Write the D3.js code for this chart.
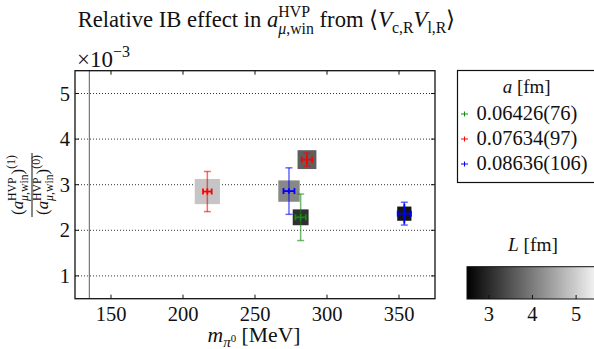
<!DOCTYPE html>
<html><head><meta charset="utf-8">
<script src="https://cdn.jsdelivr.net/npm/d3@7/dist/d3.min.js"></script>
<style>body{margin:0;background:#fff}svg{display:block}</style>
</head><body><svg id="c" width="594" height="349"></svg>
<script>
// ---- data ----
const mpi      = [216.9, 273.6, 286.1, 281.7, 353.7];     // m_pi0 [MeV]
const mpiErr   = [3.0, 3.8, 3.6, 3.6, 4.6];
const ratio    = [2.85, 2.86, 3.55, 2.285, 2.365];        // x 10^-3
const errTot   = [0.44, 0.51, 0.145, 0.51, 0.25];
const errStat  = [0.07, 0.06, 0.11, 0.07, 0.22];
const ensA     = [1, 2, 1, 0, 2];                         // index into spacings
const boxL     = [4.89, 4.15, 3.66, 3.08, 2.76];          // L [fm]
const spacings = ["0.06426(76)", "0.07634(97)", "0.08636(106)"];
const spacingColors = ["#138a13", "#ff0000", "#0000ff"];
const xTicks = [150, 200, 250, 300, 350];
const yTicks = [1, 2, 3, 4, 5];
const lTicks = [3, 4, 5];
const physMpi = 134.98;

const svg = d3.select("#c");
const FF = "'Liberation Serif', 'Times New Roman', serif";
const FS = 20.5;
const x = d3.scaleLinear().domain([125, 375]).range([75, 435]);
const y = d3.scaleLinear().domain([0.5, 5.5]).range([298.7, 70.7]);
const gray = d3.scaleLinear().domain([2.5, 5.6]).range(["#000", "#fff"]);
const boxSize = d3.scaleLinear().domain([0, 1]).range([0, 5.15]);
const cbx = d3.scaleLinear().domain([2.5, 5.6]).range([467, 602.3]);

function mtextRaw(parent, segs, base) {
  const g = parent.append("g");
  let cx = 0, lastStart = 0, maxEnd = 0;
  segs.forEach(s => {
    const size = (s.size || 1) * base;
    const start = s.stack ? lastStart : cx;
    const t = g.append("text").attr("x", start).attr("y", -(s.shift || 0) * base)
      .attr("font-size", size).style("font-family", FF).attr("fill", "#111")
      .attr("xml:space", "preserve");
    const parts = Array.isArray(s.t) ? s.t : [[s.t, s.it]];
    parts.forEach(p => t.append("tspan").style("font-style", p[1] ? "italic" : "normal").text(p[0]));
    const w = t.node().getComputedTextLength();
    if (s.stack) { cx = Math.max(cx, start + w); }
    else { lastStart = start; cx = start + w; }
    maxEnd = Math.max(maxEnd, cx);
  });
  return {g, w: maxEnd};
}
// fitW: font size is chosen so the whole expression spans fitW pixels
function mtext(parent, segs, x0, y0, anchor, base, fitW) {
  let r = mtextRaw(parent, segs, base);
  if (fitW) { const b = base * fitW / r.w; r.g.remove(); r = mtextRaw(parent, segs, b); }
  let off = 0;
  if (anchor === "middle") off = -r.w / 2;
  if (anchor === "end") off = -r.w;
  r.g.attr("transform", `translate(${x0 + off},${y0})`);
  return r.g;
}
function ptext(sel) { return sel.style("font-family", FF).attr("fill", "#111").attr("font-size", FS); }

// title
mtext(svg, [
  {t: "Relative IB effect in "}, {t: "a", it: 1},
  {t: "HVP", size: 0.7, shift: 0.45}, {t: [["μ", 1], [",win", 0]], size: 0.7, shift: -0.3, stack: 1},
  {t: " from ⟨"}, {t: "V", it: 1}, {t: "c,R", size: 0.7, shift: -0.25},
  {t: "V", it: 1}, {t: "l,R", size: 0.7, shift: -0.25}, {t: "⟩"}
], 266.5, 27, "middle", 21, 377);

// grid & reference line
const pg = svg.append("g");
pg.selectAll(".grid").data(yTicks).join("line")
  .attr("x1", 75).attr("x2", 435).attr("y1", d => y(d)).attr("y2", d => y(d))
  .attr("stroke", "#333").attr("stroke-width", 1).attr("stroke-dasharray", "1,2");
pg.append("line").attr("x1", x(physMpi)).attr("x2", x(physMpi))
  .attr("y1", 70.7).attr("y2", 298.7).attr("stroke", "#777").attr("stroke-width", 1.2);

// squares
pg.selectAll(".sq").data(mpi).join("rect")
  .attr("x", (d, i) => x(d) - boxSize(boxL[i]) / 2)
  .attr("y", (d, i) => y(ratio[i]) - boxSize(boxL[i]) / 2)
  .attr("width", (d, i) => boxSize(boxL[i]))
  .attr("height", (d, i) => boxSize(boxL[i]))
  .attr("fill", (d, i) => gray(boxL[i]));

// error bars
mpi.forEach((m, i) => {
  const c = spacingColors[ensA[i]];
  const cx = x(m), cy = y(ratio[i]);
  const g = pg.append("g").attr("stroke", c);
  const o = g.append("g").attr("stroke-opacity", 0.6).attr("stroke-width", 1.5);
  o.append("line").attr("x1", cx).attr("x2", cx).attr("y1", y(ratio[i] + errTot[i])).attr("y2", y(ratio[i] - errTot[i]));
  [errTot[i], -errTot[i]].forEach(e => o.append("line").attr("x1", cx - 3.5).attr("x2", cx + 3.5).attr("y1", y(ratio[i] + e)).attr("y2", y(ratio[i] + e)));
  const n = g.append("g").attr("stroke-width", 1.8);
  n.append("line").attr("x1", cx).attr("x2", cx).attr("y1", y(ratio[i] + errStat[i])).attr("y2", y(ratio[i] - errStat[i]));
  n.append("line").attr("x1", x(m - mpiErr[i])).attr("x2", x(m + mpiErr[i])).attr("y1", cy).attr("y2", cy);
  [mpiErr[i], -mpiErr[i]].forEach(e => n.append("line").attr("x1", x(m + e)).attr("x2", x(m + e)).attr("y1", cy - 3).attr("y2", cy + 3));
});

// axes (inward ticks both sides)
const ax = svg.append("g").attr("stroke", "#111").attr("stroke-width", 1);
xTicks.forEach(t => {
  ax.append("line").attr("x1", x(t)).attr("x2", x(t)).attr("y1", 298.7).attr("y2", 294.7);
  ax.append("line").attr("x1", x(t)).attr("x2", x(t)).attr("y1", 70.7).attr("y2", 74.7);
});
yTicks.forEach(t => {
  ax.append("line").attr("x1", 75).attr("x2", 79).attr("y1", y(t)).attr("y2", y(t));
  ax.append("line").attr("x1", 435).attr("x2", 431).attr("y1", y(t)).attr("y2", y(t));
});
svg.append("rect").attr("x", 75).attr("y", 70.7).attr("width", 360).attr("height", 228)
  .attr("fill", "none").attr("stroke", "#111").attr("stroke-width", 1.3);

ptext(svg.selectAll(".xt").data(xTicks).join("text")).attr("x", d => x(d)).attr("y", 321)
  .attr("text-anchor", "middle").text(d => d);
ptext(svg.selectAll(".yt").data(yTicks).join("text")).attr("x", 70).attr("y", d => y(d) + 7)
  .attr("text-anchor", "end").text(d => d);

mtext(svg, [{t: "×10"}, {t: "−3", size: 0.7, shift: 0.45}], 77, 67, "start", 21, 53);

// x label
mtext(svg, [{t: "m", it: 1}, {t: "π", size: 0.7, shift: -0.22, it: 1}, {t: "0", size: 0.5, shift: 0.02},
  {t: " [MeV]"}], 254, 342, "middle", 21, 93);

// y label (rotated fraction)
const yl = svg.append("g").attr("transform", "translate(32,185) rotate(-90)");
const frac = [{t: "("}, {t: "a", it: 1}, {t: "HVP", size: 0.7, shift: 0.42},
  {t: [["μ", 1], [",win", 0]], size: 0.7, shift: -0.28, stack: 1}, {t: ")"}];
mtext(yl, frac.concat([{t: "(1)", size: 0.7, shift: 0.5}]), 0, -9, "middle", 14, 60);
mtext(yl, frac.concat([{t: "(0)", size: 0.7, shift: 0.5}]), 0, 16, "middle", 14, 60);
yl.append("line").attr("x1", -32).attr("x2", 32).attr("y1", 0).attr("y2", 0).attr("stroke", "#111").attr("stroke-width", 1);

// legend
svg.append("rect").attr("x", 457.5).attr("y", 70.5).attr("width", 200).attr("height", 112)
  .attr("fill", "#fff").attr("stroke", "#111").attr("stroke-width", 1.2);
mtext(svg, [{t: "a", it: 1}, {t: " [fm]"}], 526.7, 93, "middle", 21, 48);
spacings.forEach((s, i) => {
  const yy = 120 + i * 25;
  svg.append("line").attr("x1", 461).attr("x2", 468).attr("y1", yy - 6).attr("y2", yy - 6).attr("stroke", spacingColors[i]).attr("stroke-width", 1);
  svg.append("line").attr("x1", 464.5).attr("x2", 464.5).attr("y1", yy - 8.5).attr("y2", yy - 3.5).attr("stroke", spacingColors[i]).attr("stroke-width", 1);
  ptext(svg.append("text")).attr("x", 476.5).attr("y", yy).text(s);
});

// colorbar
const defs = svg.append("defs");
const lg = defs.append("linearGradient").attr("id", "cb").attr("x1", "0%").attr("x2", "100%");
d3.range(0, 1.0001, 0.1).forEach(f => lg.append("stop").attr("offset", f).attr("stop-color", gray(2.5 + f * 3.1)));
svg.append("rect").attr("x", cbx(2.5)).attr("y", 266.7).attr("width", cbx(5.6) - cbx(2.5)).attr("height", 32.3)
  .attr("fill", "url(#cb)").attr("stroke", "#111").attr("stroke-width", 1);
lTicks.forEach(t => svg.append("line").attr("x1", cbx(t)).attr("x2", cbx(t)).attr("y1", 299).attr("y2", 295).attr("stroke", "#111"));
ptext(svg.selectAll(".lt").data(lTicks).join("text")).attr("x", d => cbx(d)).attr("y", 321)
  .attr("text-anchor", "middle").text(d => d);
mtext(svg, [{t: "L", it: 1}, {t: " [fm]"}], 533, 251, "middle", 21, 50);
</script></body></html>
